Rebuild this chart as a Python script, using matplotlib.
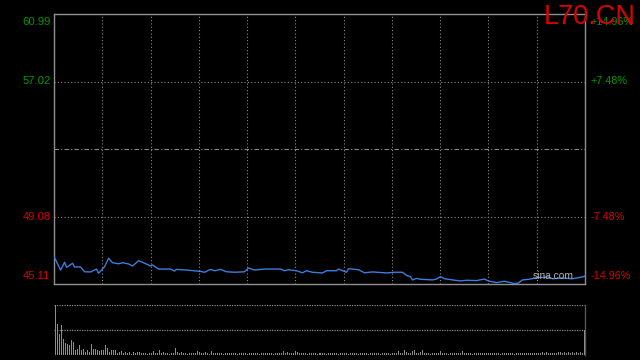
import numpy as np
import matplotlib.pyplot as plt

# constants
prev_close = 53.05
price_top = 60.99
price_bottom = 45.11
price_ticks = [60.99, 57.02, 49.08, 45.11]
pct_labels = ["+14.96%", "+7.48%", "-7.48%", "-14.96%"]
tick_colors = ["#009900", "#009900", "#dd0000", "#dd0000"]
symbol = "L70.CN"

# price line (minute index, price)
minute = [0, 3, 5, 6, 9, 10, 13, 15, 18, 21, 22, 25, 27, 29, 32, 34, 37, 39, 42, 44,
          48, 49, 52, 58, 60, 61, 66, 73, 75, 78, 80, 83, 86, 90, 95, 97, 100, 105, 113, 115,
          117, 121, 124, 126, 129, 134, 136, 141, 142, 146, 147, 152, 155, 159, 166, 170, 174, 176, 178, 179,
          181, 183, 189, 191, 193, 195, 199, 203, 206, 211, 215, 217, 221, 225, 228, 230, 232, 234, 238, 241,
          247, 249, 254, 259, 262, 265]
price = [46.66, 45.93, 46.39, 46.09, 46.33, 46.11, 46.11, 45.83, 45.82, 45.99, 45.74, 46.13, 46.62, 46.36, 46.30, 46.36, 46.29, 46.17, 46.48, 46.39,
         46.17, 46.23, 45.99, 45.99, 45.87, 45.97, 45.93, 45.85, 45.80, 45.97, 45.89, 45.97, 45.83, 45.80, 45.83, 46.05, 45.93, 45.99, 45.99, 45.89,
         45.95, 45.89, 45.77, 45.89, 45.80, 45.76, 45.89, 45.89, 45.99, 45.80, 46.01, 45.95, 45.77, 45.82, 45.76, 45.80, 45.80, 45.62, 45.54, 45.35,
         45.44, 45.39, 45.35, 45.40, 45.54, 45.42, 45.35, 45.29, 45.33, 45.31, 45.40, 45.29, 45.19, 45.27, 45.19, 45.13, 45.17, 45.35, 45.40, 45.48,
         45.52, 45.42, 45.46, 45.42, 45.48, 45.56]

# volume per minute (relative)
volume = [100, 62, 43, 60, 33, 25, 23, 21, 30, 27, 11, 13, 20, 10, 13, 7, 11, 7, 23, 13,
          13, 10, 9, 10, 11, 20, 15, 7, 10, 10, 11, 4, 6, 8, 4, 6, 4, 6, 3, 7,
          4, 6, 7, 4, 5, 4, 3, 5, 4, 8, 4, 5, 10, 4, 6, 4, 5, 3, 4, 5,
          14, 6, 4, 6, 5, 4, 3, 5, 4, 4, 5, 9, 7, 4, 5, 6, 4, 3, 8, 4,
          5, 4, 4, 5, 3, 5, 4, 5, 4, 4, 5, 3, 4, 5, 4, 4, 3, 5, 4, 4,
          5, 4, 3, 4, 5, 4, 4, 5, 4, 3, 5, 4, 4, 5, 9, 4, 6, 4, 5, 4,
          9, 6, 5, 4, 4, 5, 3, 4, 4, 5, 4, 3, 4, 4, 5, 4, 3, 4, 4, 5,
          4, 4, 3, 5, 4, 4, 4, 3, 4, 5, 4, 4, 3, 4, 4, 5, 4, 3, 4, 4,
          5, 4, 4, 3, 4, 4, 5, 4, 3, 4, 4, 5, 9, 4, 5, 10, 6, 4, 5, 9,
          10, 5, 4, 6, 10, 4, 5, 4, 3, 5, 4, 4, 5, 8, 4, 5, 4, 3, 4, 5,
          4, 4, 5, 4, 8, 4, 4, 5, 4, 3, 4, 5, 5, 4, 5, 5, 4, 4, 5, 4,
          4, 5, 4, 3, 4, 5, 4, 4, 5, 4, 3, 5, 4, 5, 4, 5, 4, 4, 5, 5,
          4, 5, 5, 4, 7, 5, 6, 4, 5, 5, 4, 5, 7, 6, 5, 6, 5, 6, 5, 6,
          5, 6, 5, 6, 5, 50]

grid_color = "#8a8a8a"
spine_color = "#909090"
x_min, x_max = -0.3, 265.3

fig = plt.figure(figsize=(6.4, 3.6), dpi=100, facecolor="black")

# price panel
ax = fig.add_axes([54 / 640, 76 / 360, 531 / 640, 270 / 360], facecolor="black")
ax.plot(minute, price, color="#3b7ddd", linewidth=1.0, zorder=3)
ax.set_xlim(x_min, x_max)
ax.set_ylim(price_bottom, price_top)
for v in np.linspace(x_min, x_max, 12)[1:-1]:
    ax.axvline(v, color=grid_color, linewidth=0.8, linestyle=(0, (1, 2)))
for p in [price_ticks[1], price_ticks[2]]:
    ax.axhline(p, color=grid_color, linewidth=0.8, linestyle=(0, (1, 2)))
ax.axhline(prev_close, color=grid_color, linewidth=0.8, linestyle=(0, (4, 2, 1, 2)))
ax.set_xticks([])
ax.set_yticks([])
for s in ax.spines.values():
    s.set_color(spine_color)
    s.set_linewidth(1)

# axis labels on both sides
vas = ["top", "center", "center", "bottom"]
offsets = [-1, 0, 0, 1]
for p, lab, c, va, off in zip(price_ticks, pct_labels, tick_colors, vas, offsets):
    ax.annotate(f"{p:.2f}", xy=(0, p), xycoords=("axes fraction", "data"),
                xytext=(-2.5, off * 2), textcoords="offset points", ha="right", va=va,
                color=c, fontsize=8.1, family="Liberation Sans")
    ax.annotate(lab, xy=(1, p), xycoords=("axes fraction", "data"),
                xytext=(4, off * 2), textcoords="offset points", ha="left", va=va,
                color=c, fontsize=7.8, family="Liberation Sans")

ax.text(0.978, 0.012, "sina.com", transform=ax.transAxes, ha="right", va="bottom",
        color="#b0b0b0", fontsize=7.4, family="Liberation Sans", zorder=4)

fig.text(636 / 640, 1 - 4 / 360, symbol, ha="right", va="top", color="#dd0000",
         fontsize=19.5, family="Liberation Sans")

# volume panel (1px bars)
axv = fig.add_axes([54 / 640, 5 / 360, 531 / 640, 50 / 360], facecolor="black")
axv.vlines(np.arange(len(volume)), 0, volume, color="#8c8c8c", linewidth=0.5,
           antialiased=False, zorder=3)
axv.set_xlim(x_min, x_max)
axv.set_ylim(0, 100)
axv.axhline(100, color=grid_color, linewidth=0.9, linestyle=(0, (1, 1)))
axv.axhline(50, color=grid_color, linewidth=0.9, linestyle=(0, (1, 1)))
axv.set_xticks([])
axv.set_yticks([])
for name, s in axv.spines.items():
    if name in ("top", "bottom", "left"):
        s.set_visible(False)
    else:
        s.set_color("#555555")
        s.set_linewidth(1)

plt.savefig("out.png", dpi=100, facecolor="black")
plt.close()
